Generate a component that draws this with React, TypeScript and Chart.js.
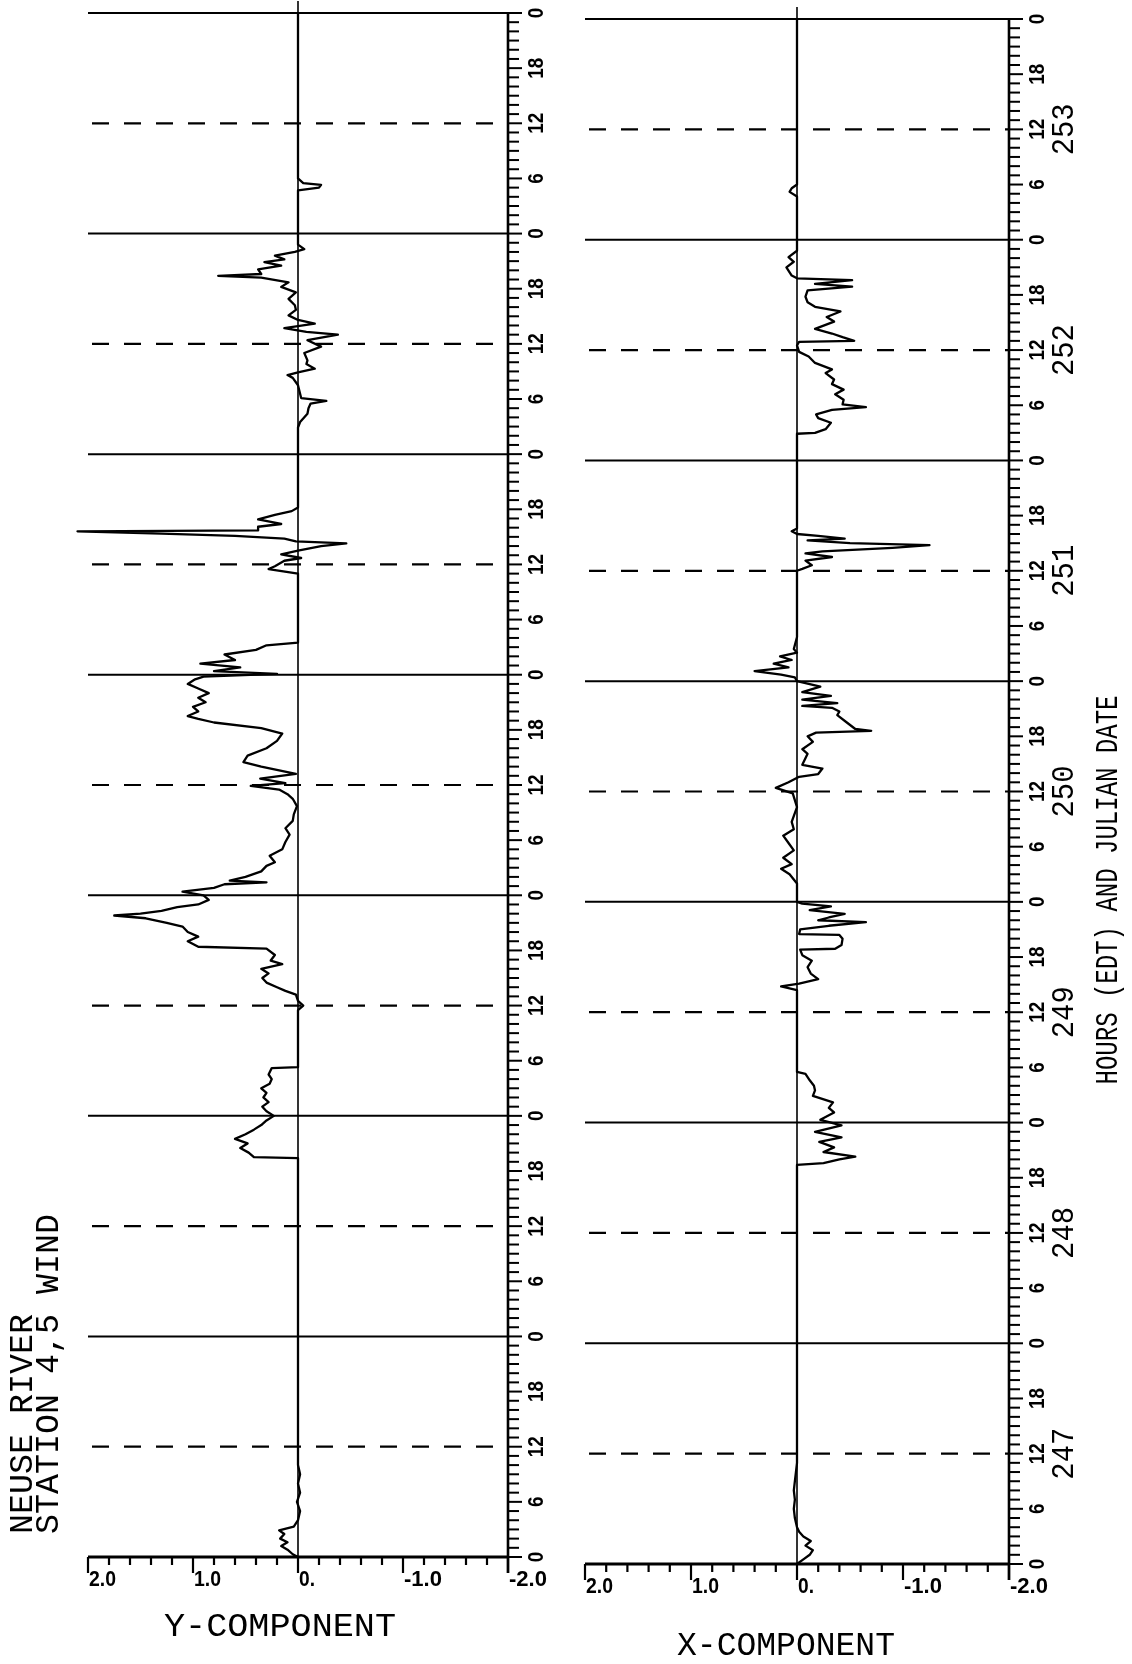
import React, { useEffect, useRef } from "react";
import { Chart, registerables } from "chart.js";

Chart.register(...registerables);

// ---- DATA (hours since day 247 00:00 EDT, wind component values) ----
const hoursY = [
  0, 0.3, 0.8, 1.2, 1.6, 2.0, 2.5, 2.9, 3.3, 4.0, 5.0, 6.0, 7.0, 8.0, 9.0, 10.0,
  43.4, 43.5, 44.0, 44.5, 45.0, 45.5, 46.0, 46.5, 47.0, 47.5, 48.0, 48.5, 49.0, 49.5, 50.0, 50.5,
  51.0, 51.5, 52.0, 52.5, 53.2, 53.3, 59.5, 60.0, 60.5, 61.2, 61.6, 62.0, 62.5, 63.0, 63.5, 64.0,
  64.5, 64.9, 65.5, 66.2, 66.4, 67.0, 67.5, 68.0, 68.6, 69.0, 69.5, 69.8, 70.0, 70.3, 70.7, 71.0,
  71.5, 72.0, 72.4, 72.8, 73.2, 73.4, 73.6, 74.0, 74.6, 75.2, 75.6, 76.3, 77.0, 77.8, 78.6, 79.3,
  80.1, 80.8, 81.7, 82.5, 83.0, 83.5, 83.9, 84.2, 84.7, 85.2, 86.0, 86.5, 87.2, 88.0, 88.8, 89.6,
  90.2, 90.8, 91.2, 91.5, 92.0, 92.5, 93.0, 93.5, 94.0, 94.5, 95.0, 95.5, 95.8, 96.1, 96.4, 96.8,
  97.2, 97.6, 98.2, 98.7, 99.2, 99.5, 107.0, 107.5, 107.8, 108.4, 108.7, 109.1, 109.5, 110.0, 110.3, 110.5,
  110.8, 111.1, 111.35, 111.6, 111.7, 112.1, 112.4, 112.9, 113.4, 113.8, 114.2, 122.9, 123.5, 124.4, 125.0, 125.5,
  125.8, 126.1, 127.5, 128.3, 128.6, 128.9, 129.3, 129.8, 130.2, 131.0, 131.7, 132.4, 133.0, 133.3, 133.7, 134.2,
  134.6, 135.1, 135.7, 136.2, 136.9, 137.6, 138.2, 138.7, 139.2, 139.4, 139.6, 140.1, 140.5, 140.9, 141.2, 141.6,
  142.0, 142.3, 142.8, 148.7, 149.0, 149.3, 149.5, 150.0, 168.0,
];
const valuesY = [
  0.0, 0.05, 0.1, 0.16, 0.1, 0.17, 0.13, 0.18, 0.04, 0.0, -0.02, 0.01, -0.02, 0.0, -0.02, 0.0,
  0.0, 0.42, 0.47, 0.55, 0.48, 0.6, 0.5, 0.42, 0.35, 0.3, 0.23, 0.3, 0.34, 0.28, 0.33, 0.3,
  0.35, 0.27, 0.25, 0.28, 0.25, 0.0, 0.0, -0.05, 0.0, 0.02, 0.12, 0.2, 0.3, 0.34, 0.28, 0.35,
  0.15, 0.26, 0.22, 0.3, 0.95, 1.05, 0.95, 1.05, 1.1, 1.25, 1.45, 1.75, 1.5, 1.3, 1.15, 0.95,
  0.85, 0.9, 1.1, 0.8, 0.7, 0.3, 0.65, 0.5, 0.35, 0.3, 0.22, 0.27, 0.15, 0.12, 0.08, 0.12,
  0.05, 0.04, 0.01, 0.05, 0.1, 0.18, 0.45, 0.12, 0.36, 0.02, 0.35, 0.52, 0.48, 0.3, 0.2, 0.15,
  0.35, 0.8, 0.95, 1.05, 0.95, 1.0, 0.88, 0.95, 0.85, 0.95, 1.05, 0.98, 0.9, 0.2, 0.8, 0.55,
  0.93, 0.6, 0.7, 0.4, 0.3, 0.0, 0.0, 0.28, 0.22, 0.13, -0.03, 0.16, 0.0, -0.22, -0.46, 0.02,
  0.13, 0.6, 1.3, 2.1, 0.38, 0.38, 0.16, 0.38, 0.22, 0.06, 0.0, 0.0, -0.02, -0.09, -0.1, -0.12,
  -0.27, -0.03, 0.0, 0.05, 0.1, 0.0, -0.16, -0.08, -0.09, -0.06, -0.22, -0.09, -0.38, -0.08, 0.13, -0.16,
  0.0, 0.09, 0.02, 0.03, 0.09, 0.02, 0.16, 0.09, 0.35, 0.76, 0.35, 0.38, 0.16, 0.32, 0.13, 0.22,
  0.03, -0.06, 0.0, 0.0, -0.2, -0.22, -0.05, 0.0, 0.0,
];

const hoursX = [
  0, 0.5, 1.0, 1.5, 2.0, 2.5, 3.0, 3.5, 4.0, 5.0, 6.0, 7.0, 8.0, 9.0, 10.0, 11.0,
  43.4, 43.6, 44.0, 44.3, 44.8, 45.3, 45.9, 46.4, 47.0, 47.7, 48.3, 49.1, 49.6, 50.2, 50.9, 51.5,
  52.0, 52.6, 53.3, 53.5, 62.4, 62.8, 63.1, 63.6, 64.2, 64.9, 65.6, 66.2, 66.8, 66.9, 67.3, 68.0,
  68.4, 68.5, 69.0, 69.4, 69.8, 70.0, 70.3, 70.7, 71.1, 71.5, 71.8, 72.0, 74.0, 75.0, 75.6, 76.1,
  76.8, 77.6, 78.4, 79.2, 79.9, 80.7, 82.3, 83.8, 84.4, 85.0, 85.6, 85.9, 86.5, 86.9, 88.1, 88.6,
  89.4, 90.0, 90.4, 90.6, 90.8, 91.5, 92.3, 92.7, 93.1, 93.3, 93.6, 94.0, 94.4, 94.8, 95.4, 96.0,
  96.4, 96.7, 97.1, 97.5, 97.9, 98.3, 98.7, 99.1, 99.5, 100.8, 108.0, 108.2, 108.6, 109.1, 109.5, 109.9,
  110.1, 110.5, 110.8, 111.0, 111.3, 111.5, 111.8, 112.0, 112.3, 112.6, 122.9, 123.0, 123.4, 124.1, 124.6, 125.0,
  125.5, 125.8, 126.1, 126.6, 127.2, 127.7, 128.3, 128.8, 129.5, 129.9, 130.6, 131.3, 131.8, 132.5, 132.9, 133.0,
  133.4, 133.8, 134.3, 135.1, 135.6, 136.2, 136.7, 137.2, 137.8, 138.5, 138.9, 139.2, 139.6, 139.8, 140.1, 141.0,
  141.6, 142.1, 142.8, 148.7, 149.2, 149.6, 150.0, 168.0,
];
const valuesX = [
  0.0, -0.06, -0.12, -0.15, -0.08, -0.13, -0.06, -0.02, 0.0, 0.02, 0.03, 0.02, 0.03, 0.02, 0.01, 0.0,
  0.0, -0.25, -0.4, -0.55, -0.25, -0.35, -0.21, -0.42, -0.17, -0.42, -0.22, -0.35, -0.3, -0.34, -0.15, -0.17,
  -0.16, -0.12, -0.08, 0.0, 0.0, 0.15, -0.02, -0.2, -0.13, -0.1, -0.14, -0.05, -0.03, -0.36, -0.42, -0.43,
  -0.4, -0.02, -0.03, -0.3, -0.65, -0.2, -0.3, -0.45, -0.12, -0.32, -0.05, 0.0, 0.0, 0.07, 0.15, 0.05,
  0.13, 0.03, 0.08, 0.13, 0.03, 0.05, 0.0, 0.04, 0.2, 0.08, -0.02, -0.2, -0.24, -0.05, -0.1, -0.05,
  -0.15, -0.1, -0.18, -0.7, -0.55, -0.47, -0.38, -0.4, -0.33, -0.05, -0.38, -0.05, -0.32, -0.05, -0.22, 0.0,
  0.02, 0.15, 0.4, 0.08, 0.22, 0.05, 0.16, 0.0, 0.03, 0.0, 0.0, -0.05, -0.14, -0.08, -0.33, -0.08,
  -0.24, -0.9, -1.25, -0.5, -0.1, -0.45, -0.2, 0.0, 0.05, 0.0, 0.0, -0.17, -0.27, -0.32, -0.2, -0.18,
  -0.33, -0.65, -0.43, -0.44, -0.36, -0.44, -0.33, -0.35, -0.27, -0.33, -0.17, -0.11, -0.02, 0.0, -0.02, -0.54,
  -0.43, -0.33, -0.17, -0.35, -0.28, -0.41, -0.17, -0.1, -0.08, -0.1, -0.52, -0.17, -0.52, 0.0, 0.05, 0.1,
  0.03, 0.08, 0.0, 0.0, 0.07, 0.05, 0.0, 0.0,
];

const valueTicks = [2, 1, 0, -1, -2];
const valueTickLabels = ["2.0", "1.0", "0.", "-1.0", "-2.0"];
const hourTickLabels = ["0", "6", "12", "18"];
const dayLabels = ["247", "248", "249", "250", "251", "252", "253"];
const leftTitleLines = ["NEUSE RIVER", "STATION 4,5 WIND"];
const timeAxisTitle = "HOURS (EDT) AND JULIAN DATE";

const MONO = '"Liberation Mono", "DejaVu Sans Mono", monospace';
const SANS = '"Liberation Sans", Arial, sans-serif';

function fitText(ctx: CanvasRenderingContext2D, text: string, x: number, y: number, angle: number, font: string, targetLen: number, align: CanvasTextAlign) {
  ctx.save();
  ctx.translate(x, y);
  ctx.rotate(angle);
  ctx.font = font;
  const w = ctx.measureText(text).width;
  const s = targetLen && w > 0 ? targetLen / w : 1;
  ctx.scale(s, 1);
  ctx.textAlign = align;
  ctx.textBaseline = "middle";
  ctx.fillStyle = "#000";
  ctx.fillText(text, 0, 0);
  ctx.restore();
}

function seg(ctx: CanvasRenderingContext2D, x1: number, y1: number, x2: number, y2: number, w: number) {
  ctx.lineWidth = w;
  ctx.beginPath();
  ctx.moveTo(x1, y1);
  ctx.lineTo(x2, y2);
  ctx.stroke();
}

const panelPlugin = {
  id: "panel",
  beforeDatasetsDraw(chart: any, _args: any, opts: any) {
    const { ctx, chartArea: a, scales } = chart;
    const x = scales.x;
    const y = scales.y;
    ctx.save();
    ctx.strokeStyle = "#000";
    for (let h = 24; h <= 168; h += 24) {
      const py = y.getPixelForValue(h);
      seg(ctx, a.left, py, a.right, py, 2);
    }
    ctx.setLineDash([17, 15]);
    for (let h = 12; h < 168; h += 24) {
      const py = y.getPixelForValue(h);
      seg(ctx, a.left + 4, py, a.right, py, 2.2);
    }
    ctx.setLineDash([]);
    const zx = x.getPixelForValue(0);
    seg(ctx, zx, a.top - 12, zx, a.bottom, 1.6);
    ctx.restore();
  },
  afterDatasetsDraw(chart: any, _args: any, opts: any) {
    const { ctx, chartArea: a, scales } = chart;
    const x = scales.x;
    const y = scales.y;
    ctx.save();
    ctx.strokeStyle = "#000";
    const by = a.bottom;
    // value axis
    seg(ctx, a.left, by, a.right, by, 2.8);
    for (let i = -10; i <= 10; i++) {
      const px = x.getPixelForValue(i / 5);
      const major = i % 5 === 0;
      seg(ctx, px, by, px, by + (major ? 16 : 8), 2.2);
    }
    valueTicks.forEach((v, i) => {
      const lab = valueTickLabels[i];
      const len = lab.replace(".", "").length * 11 + 5;
      fitText(ctx, lab, x.getPixelForValue(v) + 1, by + 23, 0, "bold 22px " + SANS, len, "left");
    });
    // time axis
    const ax = a.right;
    seg(ctx, ax, a.top, ax, by + 16, 2.6);
    for (let h = 0; h <= 168; h++) {
      const py = y.getPixelForValue(h);
      seg(ctx, ax, py, ax + (h % 6 === 0 ? 14 : 11), py, 2);
      if (h % 6 === 0) {
        const lab = hourTickLabels[(h % 24) / 6];
        fitText(ctx, lab, ax + 29, py, -Math.PI / 2, "bold 22px " + SANS, lab.length * 10.5, "center");
      }
    }
    if (opts.days) {
      dayLabels.forEach((d, i) => {
        fitText(ctx, d, ax + 56, y.getPixelForValue(i * 24 + 12), -Math.PI / 2, "31px " + MONO, 52, "center");
      });
      fitText(ctx, timeAxisTitle, ax + 100, opts.axisTitleY, -Math.PI / 2, "31px " + MONO, 389, "center");
    }
    if (opts.leftTitle) {
      fitText(ctx, leftTitleLines[0], 23, 1534, -Math.PI / 2, "33px " + MONO, 220, "left");
      fitText(ctx, leftTitleLines[1], 49, 1534, -Math.PI / 2, "33px " + MONO, 320, "left");
    }
    fitText(ctx, opts.title, (a.left + a.right) / 2 + opts.titleDx, by + opts.titleDy, 0, "34px " + MONO, opts.titleLen, "center");
    ctx.restore();
  },
};

type PanelProps = {
  hours: number[];
  values: number[];
  left: number;
  pad: { left: number; right: number; top: number; bottom: number };
  cfg: any;
};

function Panel({ hours, values, left, pad, cfg }: PanelProps) {
  const ref = useRef<HTMLCanvasElement>(null);
  useEffect(() => {
    const pts = hours.map((h, i) => ({ x: values[i], y: h }));
    const chart = new Chart(ref.current as HTMLCanvasElement, {
      type: "scatter",
      data: {
        datasets: [
          {
            data: pts,
            showLine: true,
            borderColor: "#000",
            backgroundColor: "#000",
            borderWidth: 2.3,
            pointRadius: 0,
            borderJoinStyle: "round",
            clip: false,
            tension: 0,
          } as any,
        ],
      },
      options: {
        animation: false,
        responsive: false,
        devicePixelRatio: 1,
        events: [],
        layout: { padding: pad },
        scales: {
          x: { type: "linear", min: -2, max: 2, reverse: true, display: false },
          y: { type: "linear", min: 0, max: 168, display: false },
        },
        plugins: {
          legend: { display: false },
          tooltip: { enabled: false },
          panel: cfg,
        } as any,
      },
      plugins: [panelPlugin],
    });
    return () => chart.destroy();
  }, []);
  return (
    <canvas
      ref={ref}
      width={566}
      height={1664}
      style={{ position: "absolute", left, top: 0, width: 566, height: 1664 }}
    />
  );
}

export default function App() {
  return (
    <div style={{ position: "absolute", left: 0, top: 0, width: 1132, height: 1664, background: "#fff" }}>
      <Panel
        hours={hoursY}
        values={valuesY}
        left={0}
        pad={{ left: 88, right: 58, top: 13, bottom: 107 }}
        cfg={{ title: "Y-COMPONENT", titleDx: -18, titleDy: 70, titleLen: 232, leftTitle: true, days: false }}
      />
      <Panel
        hours={hoursX}
        values={valuesX}
        left={566}
        pad={{ left: 19, right: 123, top: 19, bottom: 100 }}
        cfg={{ title: "X-COMPONENT", titleDx: -11, titleDy: 82, titleLen: 218, leftTitle: false, days: true, axisTitleY: 890 }}
      />
    </div>
  );
}
